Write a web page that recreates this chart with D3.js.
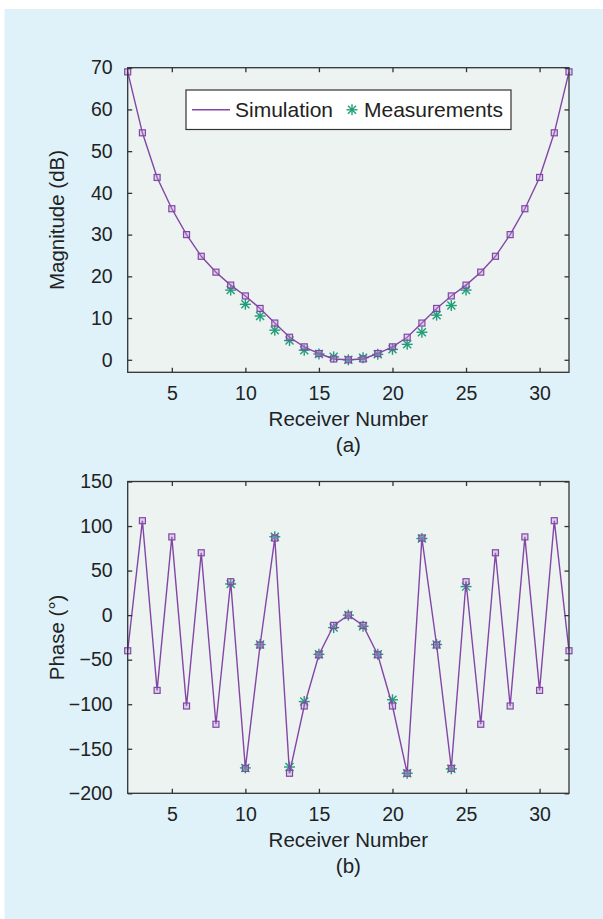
<!DOCTYPE html>
<html>
<head>
<meta charset="utf-8">
<script src="https://cdnjs.cloudflare.com/ajax/libs/d3/7.8.5/d3.min.js"></script>
<style>
  body { margin: 0; background: #fff; }
  text { font-family: "Liberation Sans", Arial, sans-serif; fill: #222; }
</style>
</head>
<body>
<svg width="603" height="919"></svg>
<script>
// receivers 2..32
var receivers = d3.range(2, 33);
var magSim = [69, 54.4, 43.7, 36.2, 30, 24.8, 21, 17.9, 15.3, 12.3, 8.8, 5.4, 3.1, 1.5, 0.2, 0,
              0.2, 1.5, 3.1, 5.4, 8.8, 12.3, 15.3, 17.9, 21, 24.8, 30, 36.2, 43.7, 54.4, 69];
var phaseSim = [-40, 106, -84.5, 87.8, -102, 70, -122.5, 37.5, -172, -33.5, 86.5, -177.5, -102, -44.5, -11.5, 0,
                -11.5, -44.5, -102, -177.5, 86.5, -33.5, -172, 37.5, -122.5, 70, -102, 87.8, -84.5, 106, -40];
// measurements, receivers 9..25
var measReceivers = d3.range(9, 26);
var magMeas = [16.7, 13.3, 10.5, 7.1, 4.6, 2.3, 1.4, 0.7, 0, 0.5, 1.3, 2.5, 3.7, 6.6, 10.7, 13, 16.7];
var phaseMeas = [35, -171.5, -33, 88, -170.5, -97, -44, -14, 0, -12.5, -44, -95, -177.5, 86, -33, -172.5, 32];

var xTicks = [5, 10, 15, 20, 25, 30];
var magTicks = [0, 10, 20, 30, 40, 50, 60, 70];
var phaseTicks = [-200, -150, -100, -50, 0, 50, 100, 150];

var purple = '#8446a6';
var green = '#1f9e78';
var starArms = [[-5.5, 0, 5.5, 0], [0, -5.5, 0, 5.5], [-4, -4, 4, 4], [-4, 4, 4, -4]];

var svg = d3.select('svg');

svg.append('rect')
  .attr('x', 4.5).attr('y', 9)
  .attr('width', 603).attr('height', 919)
  .attr('fill', '#dff2fa');

var left = 127.7, right = 569;

function drawPanel(opts) {
  var x = d3.scaleLinear().domain([2, 32]).range([left, right]);
  var y = d3.scaleLinear().domain(opts.yDomain).range([opts.bottom, opts.top]);
  var g = svg.append('g');

  g.append('rect')
    .attr('x', left).attr('y', opts.top)
    .attr('width', right - left).attr('height', opts.bottom - opts.top)
    .attr('fill', '#ecf3f1');

  // stars (measurements)
  var star = g.append('g').selectAll('g')
    .data(measReceivers.map((r, i) => [r, opts.meas[i]]))
    .enter().append('g')
    .attr('transform', d => 'translate(' + x(d[0]) + ',' + y(d[1]) + ')')
    .attr('stroke', green).attr('stroke-width', 1.4);
  starArms.forEach(l => {
    star.append('line').attr('x1', l[0]).attr('y1', l[1]).attr('x2', l[2]).attr('y2', l[3]);
  });

  var line = d3.line().x((d, i) => x(receivers[i])).y(d => y(d));
  g.append('path')
    .attr('d', line(opts.sim))
    .attr('fill', 'none')
    .attr('stroke', purple)
    .attr('stroke-width', 1.4);

  g.append('g').selectAll('rect')
    .data(opts.sim)
    .enter().append('rect')
    .attr('x', (d, i) => x(receivers[i]) - 3)
    .attr('y', d => y(d) - 3)
    .attr('width', 6).attr('height', 6)
    .attr('fill', 'rgba(190,150,215,0.35)')
    .attr('stroke', purple)
    .attr('stroke-width', 1.2);

  // box + ticks
  var axisColor = '#333';
  g.append('rect')
    .attr('x', left).attr('y', opts.top)
    .attr('width', right - left).attr('height', opts.bottom - opts.top)
    .attr('fill', 'none').attr('stroke', axisColor).attr('stroke-width', 1.3);

  var xb = g.append('g').attr('transform', 'translate(0,' + opts.bottom + ')')
    .call(d3.axisBottom(x).tickValues(xTicks).tickSizeInner(-4.5).tickSizeOuter(0).tickPadding(14));
  var xt = g.append('g').attr('transform', 'translate(0,' + opts.top + ')')
    .call(d3.axisTop(x).tickValues(xTicks).tickSizeInner(-4.5).tickSizeOuter(0).tickFormat(''));
  var yl = g.append('g').attr('transform', 'translate(' + left + ',0)')
    .call(d3.axisLeft(y).tickValues(opts.yTicks).tickSizeInner(-4.5).tickSizeOuter(0).tickPadding(15)
      .tickFormat(d => d < 0 ? '\u2212' + Math.abs(d) : d));
  var yr = g.append('g').attr('transform', 'translate(' + right + ',0)')
    .call(d3.axisRight(y).tickValues(opts.yTicks).tickSizeInner(-4.5).tickSizeOuter(0).tickFormat(''));
  [xb, xt, yl, yr].forEach(a => {
    a.select('.domain').remove();
    a.selectAll('line').attr('stroke', axisColor).attr('stroke-width', 1.3);
    a.selectAll('text').attr('font-size', 19.5).attr('fill', '#222')
      .attr('font-family', '"Liberation Sans", Arial, sans-serif');
  });

  g.append('text')
    .attr('x', (left + right) / 2).attr('y', opts.bottom + 54)
    .attr('text-anchor', 'middle').attr('font-size', 20.5)
    .text('Receiver Number');
  g.append('text')
    .attr('x', (left + right) / 2).attr('y', opts.bottom + 80)
    .attr('text-anchor', 'middle').attr('font-size', 20.5)
    .text(opts.sub);
  g.append('text')
    .attr('transform', 'translate(64,' + (opts.top + opts.bottom) / 2 + ') rotate(-90)')
    .attr('text-anchor', 'middle').attr('font-size', 20.5)
    .text(opts.ylabel);
  return g;
}

drawPanel({top: 67.7, bottom: 372.3, yDomain: [-3, 70], yTicks: magTicks,
  sim: magSim, meas: magMeas, sub: '(a)', ylabel: 'Magnitude (dB)'});
drawPanel({top: 481.5, bottom: 793.3, yDomain: [-200, 150], yTicks: phaseTicks,
  sim: phaseSim, meas: phaseMeas, sub: '(b)', ylabel: 'Phase (\u00b0)'});

// legend
var lg = svg.append('g');
lg.append('rect')
  .attr('x', 186).attr('y', 90).attr('width', 325).attr('height', 39.5)
  .attr('fill', '#fff').attr('stroke', '#333').attr('stroke-width', 1.2);
lg.append('line')
  .attr('x1', 192).attr('x2', 230).attr('y1', 109.8).attr('y2', 109.8)
  .attr('stroke', purple).attr('stroke-width', 1.4);
lg.append('text').attr('x', 235).attr('y', 117).attr('font-size', 21).text('Simulation');
var ls = lg.append('g').attr('transform', 'translate(352,109.8)')
  .attr('stroke', green).attr('stroke-width', 1.4);
starArms.forEach(l => {
  ls.append('line').attr('x1', l[0]).attr('y1', l[1]).attr('x2', l[2]).attr('y2', l[3]);
});
lg.append('text').attr('x', 364).attr('y', 117).attr('font-size', 21).text('Measurements');
</script>
</body>
</html>
